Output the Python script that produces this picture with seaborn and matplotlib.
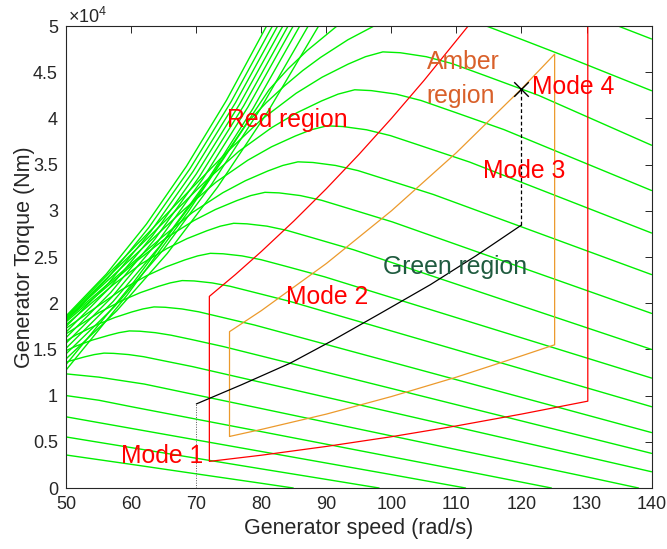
import numpy as np
import pandas as pd
import seaborn as sns
import matplotlib
matplotlib.use('Agg')
import matplotlib.pyplot as plt

# Torque-speed curves, torque in units of 1e4 Nm (one pair of lists per wind speed)
w01_x = [50, 60, 70, 80, 84.9]
w01_y = [0.357, 0.256, 0.153, 0.051, 0.0]
w02_x = [50, 60, 70, 80, 90, 98.1]
w02_y = [0.552, 0.437, 0.322, 0.207, 0.093, 0.0]
w03_x = [50, 60, 70, 80, 90, 100, 111.4]
w03_y = [0.77, 0.645, 0.52, 0.395, 0.27, 0.145, 0.0]
w04_x = [50, 55, 60, 70, 80, 90, 100, 110, 124.6]
w04_y = [1.0, 0.95, 0.88, 0.745, 0.61, 0.474, 0.338, 0.202, 0.0]
w05_x = [50, 55, 62, 70, 80, 90, 100, 110, 120, 130, 138]
w05_y = [1.235, 1.20, 1.125, 1.007, 0.86, 0.712, 0.564, 0.416, 0.269, 0.121, 0.0]
w06_x = [50, 50.55, 52.8, 54.3, 55.8, 57.3, 59.6, 61.9, 64.9, 69.4, 140]
w06_y = [1.362, 1.375, 1.419, 1.444, 1.46, 1.457, 1.444, 1.421, 1.378, 1.314, 0.176]
w07_x = [50, 51.6, 54.0, 56.5, 58.1, 59.7, 61.3, 63.7, 66.1, 69.4, 74.2, 140]
w07_y = [1.488, 1.539, 1.601, 1.652, 1.681, 1.70, 1.697, 1.681, 1.654, 1.605, 1.53, 0.375]
w08_x = [50, 51.48, 54.91, 57.49, 60.06, 61.78, 63.49, 65.21, 67.78, 70.36, 73.79, 78.94, 140]
w08_y = [1.593, 1.656, 1.774, 1.846, 1.905, 1.938, 1.96, 1.956, 1.938, 1.907, 1.85, 1.764, 0.60]
w09_x = [50, 51.32, 54.99, 58.66, 61.41, 64.16, 65.99, 67.82, 69.65, 72.4, 75.15, 78.82, 84.32, 140]
w09_y = [1.67, 1.729, 1.897, 2.032, 2.115, 2.182, 2.22, 2.245, 2.241, 2.22, 2.184, 2.119, 2.021, 0.88]
w10_x = [50, 54.6, 58.5, 62.4, 65.33, 68.25, 70.2, 72.15, 74.1, 77.03, 79.95, 83.85, 89.7, 140]
w10_y = [1.73, 1.956, 2.146, 2.299, 2.393, 2.469, 2.512, 2.54, 2.535, 2.512, 2.471, 2.398, 2.286, 1.19]
w11_x = [50, 57.32, 61.41, 65.5, 68.57, 71.65, 73.69, 75.74, 77.79, 80.86, 83.93, 88.02, 94.16, 140]
w11_y = [1.77, 2.206, 2.421, 2.593, 2.699, 2.785, 2.834, 2.865, 2.859, 2.834, 2.788, 2.705, 2.579, 1.50]
w12_x = [50, 60.96, 65.31, 69.66, 72.93, 76.2, 78.37, 80.55, 82.73, 85.99, 89.26, 93.61, 100.14, 140]
w12_y = [1.80, 2.464, 2.704, 2.896, 3.014, 3.11, 3.165, 3.20, 3.194, 3.165, 3.114, 3.021, 2.88, 1.89]
w13_x = [50, 64.79, 69.42, 74.05, 77.52, 80.99, 83.3, 85.62, 87.93, 91.4, 94.87, 99.5, 106.44, 140]
w13_y = [1.82, 2.718, 2.983, 3.195, 3.325, 3.431, 3.491, 3.53, 3.523, 3.491, 3.435, 3.332, 3.177, 2.31]
w14_x = [50, 68.18, 73.05, 77.92, 81.57, 85.23, 87.66, 90.1, 92.53, 96.18, 99.84, 104.71, 112.01, 140]
w14_y = [1.83, 3.018, 3.312, 3.548, 3.693, 3.81, 3.877, 3.92, 3.912, 3.877, 3.814, 3.70, 3.528, 2.76]
w15_x = [50, 71.4, 76.5, 81.6, 85.43, 89.25, 91.8, 94.35, 96.9, 100.73, 104.55, 109.65, 117.3, 140]
w15_y = [1.84, 3.319, 3.642, 3.901, 4.06, 4.189, 4.263, 4.31, 4.301, 4.263, 4.194, 4.069, 3.879, 3.22]
w16_x = [50, 74.68, 80.01, 85.34, 89.34, 93.35, 96.01, 98.68, 101.35, 105.35, 109.35, 114.68, 122.68, 140]
w16_y = [1.85, 3.634, 3.988, 4.272, 4.446, 4.588, 4.668, 4.72, 4.711, 4.668, 4.593, 4.456, 4.248, 3.71]
w17_x = [50, 59.33, 68.65, 77.98, 80.77, 83.55, 86.34, 89.12, 93.3, 97.48, 100.26, 103.05, 105.83,
         110.01, 114.19, 119.76, 128.11, 140]
w17_y = [1.28, 2.086, 2.98, 3.966, 4.172, 4.352, 4.517, 4.661, 4.851, 5.006, 5.093, 5.15, 5.14,
         5.093, 5.011, 4.862, 4.635, 4.30]
w18_x = [50, 60.4, 70.8, 81.2, 84.1, 87.0, 92.8, 98.6, 118.9, 124.7, 133.4, 140]
w18_y = [1.34, 2.232, 3.221, 4.312, 4.536, 4.732, 5.068, 5.33, 5.449, 5.286, 5.04, 4.86]
w19_x = [50, 57.76, 65.52, 73.28, 81.04, 88.8, 93]
w19_y = [1.40, 1.918, 2.538, 3.258, 4.078, 5.0, 5.4]
w20_x = [50, 57.44, 64.88, 72.32, 79.76, 87.2, 91.5]
w20_y = [1.455, 1.965, 2.575, 3.284, 4.093, 5.0, 5.45]
w21_x = [50, 57.18, 64.36, 71.54, 78.72, 85.9, 90]
w21_y = [1.515, 2.017, 2.616, 3.313, 4.108, 5.0, 5.47]
w22_x = [50, 56.98, 63.96, 70.94, 77.92, 84.9, 89]
w22_y = [1.57, 2.064, 2.654, 3.34, 4.122, 5.0, 5.46]
w23_x = [50, 56.82, 63.64, 70.46, 77.28, 84.1, 88]
w23_y = [1.63, 2.115, 2.695, 3.369, 4.137, 5.0, 5.46]
w24_x = [50, 56.66, 63.32, 69.98, 76.64, 83.3, 87]
w24_y = [1.69, 2.167, 2.736, 3.398, 4.153, 5.0, 5.46]
w25_x = [50, 56.5, 63.0, 69.5, 76.0, 82.5, 86]
w25_y = [1.75, 2.218, 2.777, 3.427, 4.168, 5.0, 5.46]
w26_x = [50, 56.34, 62.68, 69.02, 75.36, 81.7, 85]
w26_y = [1.81, 2.269, 2.818, 3.456, 4.183, 5.0, 5.45]
w27_x = [50, 56.16, 62.32, 68.48, 74.64, 80.8, 84]
w27_y = [1.865, 2.316, 2.856, 3.483, 4.197, 5.0, 5.44]

# Region outlines
red_x = [111.8, 105, 100, 95, 90, 85, 80, 76, 72, 72, 80, 90, 100, 110, 120, 130.2, 130.2]
red_y = [5.0, 4.41, 4.0, 3.61, 3.24, 2.89, 2.56, 2.31, 2.074, 0.288, 0.355, 0.45, 0.555, 0.672, 0.80, 0.94, 5.0]
amber_x = [75.1, 75.1, 80, 90, 100, 110, 120, 125.1, 125.1, 120, 110, 100, 90, 80, 75.1]
amber_y = [0.558, 1.692, 1.92, 2.43, 3.0, 3.63, 4.32, 4.695, 1.55, 1.43, 1.20, 0.99, 0.80, 0.634, 0.558]
green_x = [70, 77, 84.4, 91, 98.3, 106, 113, 120]
green_y = [0.91, 1.119, 1.35, 1.599, 1.89, 2.201, 2.513, 2.846]
mode3_x = [120, 120]
mode3_y = [2.846, 4.32]
mode1_x = [70, 70]
mode1_y = [0, 0.91]
mode4_x = [120]
mode4_y = [4.32]

xticks = [50, 60, 70, 80, 90, 100, 110, 120, 130, 140]
yticks = [0, 0.5, 1, 1.5, 2, 2.5, 3, 3.5, 4, 4.5, 5]
ytick_labels = ['0', '0.5', '1', '1.5', '2', '2.5', '3', '3.5', '4', '4.5', '5']

curves = [(w01_x, w01_y), (w02_x, w02_y), (w03_x, w03_y), (w04_x, w04_y), (w05_x, w05_y),
          (w06_x, w06_y), (w07_x, w07_y), (w08_x, w08_y), (w09_x, w09_y), (w10_x, w10_y),
          (w11_x, w11_y), (w12_x, w12_y), (w13_x, w13_y), (w14_x, w14_y), (w15_x, w15_y),
          (w16_x, w16_y), (w17_x, w17_y), (w18_x, w18_y), (w19_x, w19_y), (w20_x, w20_y),
          (w21_x, w21_y), (w22_x, w22_y), (w23_x, w23_y), (w24_x, w24_y), (w25_x, w25_y),
          (w26_x, w26_y), (w27_x, w27_y)]
frames = []
for i, (cx, cy) in enumerate(curves):
    frames.append(pd.DataFrame({'speed': cx, 'torque': cy, 'curve': i}))
green_df = pd.concat(frames, ignore_index=True)

sns.set_style('white')
plt.rcParams['font.family'] = ['Liberation Sans', 'DejaVu Sans']
plt.rcParams['mathtext.fontset'] = 'custom'
plt.rcParams['mathtext.rm'] = 'Liberation Sans'

fig = plt.figure(figsize=(6.67, 5.49), dpi=100)
ax = fig.add_axes([0.0994, 0.1111, 0.8774, 0.8415])

sns.lineplot(data=green_df, x='speed', y='torque', units='curve', estimator=None,
             sort=False, color='#00f000', lw=1.0, ax=ax, legend=False)

def outline(xs, ys, color, **kw):
    d = pd.DataFrame({'x': xs, 'y': ys})
    sns.lineplot(data=d, x='x', y='y', sort=False, estimator=None, color=color, ax=ax, **kw)

outline(red_x, red_y, '#ff0000', lw=0.9)
outline(amber_x, amber_y, '#ec9a2c', lw=0.9)
outline(green_x, green_y, 'black', lw=0.9)
outline(mode3_x, mode3_y, 'black', lw=0.9, linestyle=(0, (3, 2)))
outline(mode1_x, mode1_y, '#555555', lw=0.7, linestyle=(0, (1, 1.5)))
sns.scatterplot(x=mode4_x, y=mode4_y, marker='x', color='black', s=110, linewidth=1.0, ax=ax, zorder=5)

ax.set_xlim(50, 140)
ax.set_ylim(0, 5)
ax.set_xticks(xticks)
ax.set_yticks(yticks)
ax.set_yticklabels(ytick_labels)
ax.tick_params(direction='in', length=5, width=0.7, top=True, right=True,
               labelsize=13, colors='#262626', pad=6)
for s in ax.spines.values():
    s.set_color('#262626')
    s.set_linewidth(0.8)

ax.set_xlabel('Generator speed (rad/s)', fontsize=15.5, color='#262626')
ax.set_ylabel('Generator Torque (Nm)', fontsize=15.5, color='#262626')
ax.xaxis.set_label_coords(0.5, -0.064)
ax.yaxis.set_label_coords(-0.053, 0.5)

ax.text(0.003, 1.006, r'$\times10^{4}$', transform=ax.transAxes, ha='left', va='baseline',
        fontsize=13, color='#262626')

fs = 17.8
ax.text(74.68, 3.91, 'Red region', color='#ff0000', fontsize=fs, va='baseline')
ax.text(105.45, 4.53, 'Amber', color='#d9602a', fontsize=fs, va='baseline')
ax.text(105.45, 4.163, 'region', color='#d9602a', fontsize=fs, va='baseline')
ax.text(98.77, 2.32, 'Green region', color='#1f5b3f', fontsize=fs, va='baseline')
ax.text(121.6, 4.264, 'Mode 4', color='#ff0000', fontsize=fs, va='baseline')
ax.text(114.15, 3.352, 'Mode 3', color='#ff0000', fontsize=fs, va='baseline')
ax.text(83.75, 1.988, 'Mode 2', color='#ff0000', fontsize=fs, va='baseline')
ax.text(58.37, 0.267, 'Mode 1', color='#ff0000', fontsize=fs, va='baseline')

fig.savefig('out.png', dpi=100)
